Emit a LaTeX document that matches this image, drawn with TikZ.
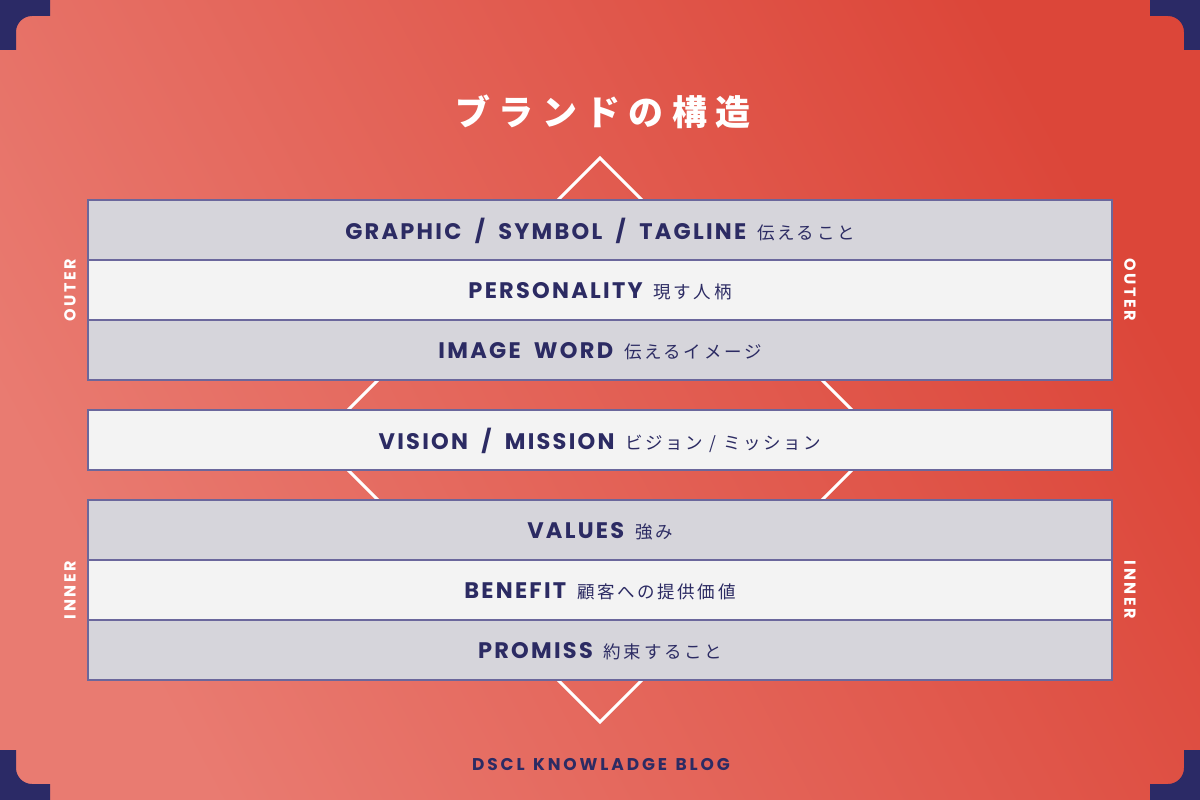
\documentclass[tikz,border=0pt]{standalone}
\usepackage{fontspec}
\newfontfamily\lab[LetterSpace=10, WordSpace=1.9]{Poppins}
\newfontfamily\side[LetterSpace=16]{Poppins}
\newfontfamily\foot[LetterSpace=17, WordSpace=1.3]{Poppins}
\newfontfamily\jp[LetterSpace=15]{Noto Sans CJK JP}
\newfontfamily\ttl[LetterSpace=24]{Noto Sans CJK JP}
\definecolor{navy}{HTML}{2B2A66}
\definecolor{txtnavy}{HTML}{2C2B63}
\definecolor{edge}{HTML}{6B679C}
\definecolor{greyrow}{HTML}{D6D5DB}
\definecolor{lightrow}{HTML}{F3F3F3}
\definecolor{bglight}{HTML}{E97B71}
\definecolor{bgdark}{HTML}{DC4639}
\newcommand\rowtext[2]{{\lab\bfseries\fontsize{22.5}{22.5}\selectfont #1}\hspace{11pt}{\jp\fontsize{17.5}{17.5}\selectfont #2}}
\tikzset{
  rowbox/.style={draw=edge, line width=1.5pt},
  greybox/.style={rowbox, fill=greyrow},
  lightbox/.style={rowbox, fill=lightrow},
  rowlabel/.style={text=txtnavy, inner sep=0pt, anchor=center},
  sidelabel/.style={text=white, inner sep=0pt, font=\side\bfseries\fontsize{16}{16}\selectfont},
  corner/.style={fill=navy}
}
\begin{document}
\begin{tikzpicture}[x=1pt,y=-1pt]
\useasboundingbox (0,0) rectangle (1200,800);
% background
\shade[top color=bgdark, bottom color=bglight, shading angle=-62] (0,0) rectangle (1200,800);
% corners
\fill[corner] (0,0) -- (50,0) -- (50,16) -- (32,16) .. controls (23.2,16) and (16,23.2) .. (16,32) -- (16,50) -- (0,50) -- cycle;
\fill[corner] (1200,0) -- (1150,0) -- (1150,16) -- (1168,16) .. controls (1176.8,16) and (1184,23.2) .. (1184,32) -- (1184,50) -- (1200,50) -- cycle;
\fill[corner] (0,800) -- (50,800) -- (50,784) -- (32,784) .. controls (23.2,784) and (16,776.8) .. (16,768) -- (16,750) -- (0,750) -- cycle;
\fill[corner] (1200,800) -- (1150,800) -- (1150,784) -- (1168,784) .. controls (1176.8,784) and (1184,776.8) .. (1184,768) -- (1184,750) -- (1200,750) -- cycle;
% diamond
\coordinate (dtop) at (600,158);
\coordinate (dleft) at (318,440);
\coordinate (dbot) at (600,722);
\coordinate (dright) at (882,440);
\draw[white, line width=3pt] (dtop) -- (dleft) -- (dbot) -- (dright) -- cycle;
% title
\node[text=white, inner sep=0pt] (title) at (603,112) {\ttl\bfseries\fontsize{35}{35}\selectfont ブランドの構造};
% boxes
\draw[greybox] (88,200) rectangle (1112,260);
\draw[lightbox] (88,260) rectangle (1112,320);
\draw[greybox] (88,320) rectangle (1112,380);
\draw[lightbox] (88,410) rectangle (1112,470);
\draw[greybox] (88,500) rectangle (1112,560);
\draw[lightbox] (88,560) rectangle (1112,620);
\draw[greybox] (88,620) rectangle (1112,680);
% labels
\node[rowlabel] (r1) at (600,231) {\rowtext{GRAPHIC / SYMBOL / TAGLINE}{伝えること}};
\node[rowlabel] (r2) at (600,291) {\rowtext{PERSONALITY}{現す人柄}};
\node[rowlabel] (r3) at (600,351) {\rowtext{IMAGE WORD}{伝えるイメージ}};
\node[rowlabel] (r4) at (600,441) {\rowtext{VISION / MISSION}{ビジョン / ミッション}};
\node[rowlabel] (r5) at (600,531) {\rowtext{VALUES}{強み}};
\node[rowlabel] (r6) at (600,591) {\rowtext{BENEFIT}{顧客への提供価値}};
\node[rowlabel] (r7) at (600,651) {\rowtext{PROMISS}{約束すること}};
% side labels
\node[sidelabel, rotate=90] (ol) at (70,290) {OUTER};
\node[sidelabel, rotate=-90] (or) at (1130,290) {OUTER};
\node[sidelabel, rotate=90] (il) at (70,590) {INNER};
\node[sidelabel, rotate=-90] (ir) at (1130,590) {INNER};
% footer
\node[text=txtnavy, inner sep=0pt] (footer) at (601,765) {\foot\bfseries\fontsize{17}{17}\selectfont DSCL KNOWLADGE BLOG};
\end{tikzpicture}
\end{document}
